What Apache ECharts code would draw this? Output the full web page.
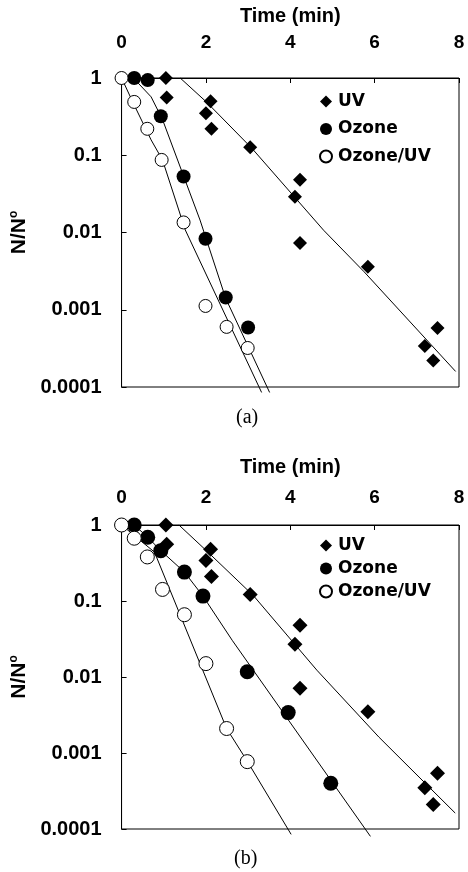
<!DOCTYPE html>
<html>
<head>
<meta charset="utf-8">
<script src="https://cdn.jsdelivr.net/npm/echarts@6/dist/echarts.min.js"></script>
<style>
html,body{margin:0;padding:0;background:#fff;}
#c{width:468px;height:872px;}
</style>
</head>
<body>
<div id="c"></div>
<script>
// ---- tick labels ----
const yTickLabels = ['1', '0.1', '0.01', '0.001', '0.0001'];
const xTickValues = [0, 2, 4, 6, 8];
const panelLabels = ['(a)', '(b)'];
const seriesNames = ['UV', 'Ozone', 'Ozone/UV'];

// ---- panel (a) measured points ----
const uvTime = [1.05, 1.07, 2.11, 2.00, 2.13, 3.05, 4.23, 4.11, 4.23, 5.84, 7.49, 7.19, 7.39];
const uvA = [1, 0.56, 0.50, 0.35, 0.22, 0.127, 0.048, 0.029, 0.0073, 0.0036, 0.00058, 0.00034, 0.00022];
const ozoneTimeA = [0.30, 0.62, 0.93, 1.47, 1.99, 2.47, 3.00];
const ozoneA = [1, 0.94, 0.32, 0.053, 0.0083, 0.00144, 0.00059];
const ozoneUvTimeA = [0, 0.30, 0.61, 0.95, 1.47, 1.99, 2.49, 2.99];
const ozoneUvA = [1, 0.49, 0.22, 0.087, 0.0135, 0.00112, 0.0006, 0.00032];

// ---- panel (a) fitted curves ----
const uvFitTimeA = [1.39, 2.01, 3.09, 4.79, 5.75, 7.92];
const uvFitA = [1, 0.49, 0.123, 0.0107, 0.0031, 0.000159];
const ozoneFitTimeA = [0.28, 0.70, 0.97, 1.86, 2.47, 3.51];
const ozoneFitA = [1, 0.57, 0.29, 0.0145, 0.0014, 0.000085];
const ozoneUvFitTimeA = [0, 0.28, 0.70, 0.97, 1.51, 3.32];
const ozoneUvFitA = [1, 0.47, 0.158, 0.087, 0.0108, 0.000085];

// ---- panel (b) measured points ----
const uvB = [1, 0.56, 0.48, 0.34, 0.21, 0.122, 0.048, 0.027, 0.0071, 0.0035, 0.00054, 0.00035, 0.00021];
const ozoneTimeB = [0.30, 0.62, 0.93, 1.49, 1.93, 2.98, 3.95, 4.96];
const ozoneB = [1, 0.69, 0.46, 0.24, 0.116, 0.0117, 0.0034, 0.0004];
const ozoneUvTimeB = [0, 0.30, 0.61, 0.97, 1.49, 2.00, 2.49, 2.98];
const ozoneUvB = [1, 0.67, 0.38, 0.142, 0.066, 0.015, 0.0021, 0.00077];

// ---- panel (b) fitted curves ----
const uvFitTimeB = [1.36, 2.01, 3.13, 4.63, 6.10, 7.91];
const uvFitB = [1, 0.46, 0.117, 0.0123, 0.00162, 0.000162];
const ozoneFitTimeB = [0.30, 0.62, 0.93, 1.49, 1.93, 2.63, 5.90];
const ozoneFitB = [1, 0.69, 0.46, 0.24, 0.116, 0.030, 0.000080];
const ozoneUvFitTimeB = [0, 0.78, 2.49, 2.98, 4.02];
const ozoneUvFitB = [1, 0.44, 0.0021, 0.00078, 0.000085];

const pair = (xs, ys) => xs.map((x, i) => [x, ys[i]]);
const SANS = '"Liberation Sans", Arial, sans-serif';

function xAxis(gi, labelMargin, nameGap) {
  return {
    type: 'value', gridIndex: gi, position: 'top',
    min: xTickValues[0], max: xTickValues[xTickValues.length - 1], interval: xTickValues[1] - xTickValues[0],
    name: 'Time (min)', nameLocation: 'middle', nameGap: nameGap,
    nameTextStyle: { fontFamily: SANS, fontWeight: 'bold', fontSize: 20, color: '#000' },
    axisLine: { show: true, lineStyle: { color: '#000', width: 1 } },
    axisTick: { show: true, inside: true, length: 5, lineStyle: { color: '#000' } },
    axisLabel: { margin: labelMargin, fontFamily: SANS, fontWeight: 'bold', fontSize: 19, lineHeight: 19, color: '#000' },
    splitLine: { show: false }
  };
}
function yAxis(gi) {
  return {
    type: 'log', logBase: 10, gridIndex: gi, min: 0.0001, max: 1,
    name: '{n|N/N}{s|o}', nameLocation: 'middle', nameGap: 73,
    nameTextStyle: {
      color: '#000',
      rich: {
        n: { fontFamily: SANS, fontWeight: 'bold', fontSize: 21, color: '#000', lineHeight: 22 },
        s: { fontFamily: SANS, fontWeight: 'bold', fontSize: 12, color: '#000', verticalAlign: 'top', lineHeight: 22 }
      }
    },
    axisLine: { show: true, lineStyle: { color: '#000', width: 1 } },
    axisTick: { show: true, inside: true, length: 5, lineStyle: { color: '#000' } },
    axisLabel: {
      margin: 20, fontFamily: SANS, fontWeight: 'bold', fontSize: 20, color: '#000',
      formatter: v => yTickLabels[Math.round(-Math.log10(v))]
    },
    splitLine: { show: false }
  };
}
function scatter(name, gi, data, symbol, size, hollow) {
  return {
    type: 'scatter', name: name, xAxisIndex: gi, yAxisIndex: gi, data: data,
    symbol: symbol, symbolSize: size, z: 5,
    itemStyle: hollow ? { color: '#fff', borderColor: '#000', borderWidth: 1, opacity: 1 } : { color: '#000', opacity: 1 }
  };
}
function fit(name, gi, data) {
  return {
    type: 'line', name: name, xAxisIndex: gi, yAxisIndex: gi, data: data,
    symbol: 'none', showSymbol: false, clip: false, z: 3,
    lineStyle: { color: '#000', width: 1 }
  };
}
function legend(top, gap) {
  return {
    orient: 'vertical', left: 319, top: top, padding: 0, itemGap: gap,
    itemWidth: 12, itemHeight: 12, selectedMode: false,
    textStyle: { fontFamily: '"DejaVu Sans", sans-serif', fontWeight: 'bold', fontSize: 17, lineHeight: 17, color: '#000', padding: [0, 0, 0, 1] },
    data: [
      { name: seriesNames[0], icon: 'diamond' },
      { name: seriesNames[1], icon: 'circle' },
      { name: seriesNames[2], icon: 'circle' }
    ]
  };
}

const chart = echarts.init(document.getElementById('c'), null, { renderer: 'canvas' });
chart.setOption({
  animation: false,
  backgroundColor: '#fff',
  grid: [
    { left: 113, top: 78, width: 346, height: 309, show: true, borderColor: '#000', borderWidth: 1, containLabel: false },
    { left: 113, top: 525, width: 346, height: 304, show: true, borderColor: '#000', borderWidth: 1, containLabel: false }
  ],
  xAxis: [xAxis(0, 26, 52), xAxis(1, 18, 48)],
  yAxis: [yAxis(0), yAxis(1)],
  legend: [legend(93, 10.5), legend(537, 6)],
  graphic: [
    { type: 'text', left: 236, top: 408, style: { text: panelLabels[0], font: '20px "Liberation Serif", "Times New Roman", serif', fill: '#000' } },
    { type: 'text', left: 234, top: 849, style: { text: panelLabels[1], font: '20px "Liberation Serif", "Times New Roman", serif', fill: '#000' } }
  ],
  series: [
    fit('UV fit (a)', 0, pair(uvFitTimeA, uvFitA)),
    fit('Ozone fit (a)', 0, pair(ozoneFitTimeA, ozoneFitA)),
    fit('Ozone/UV fit (a)', 0, pair(ozoneUvFitTimeA, ozoneUvFitA)),
    scatter(seriesNames[0], 0, pair(uvTime, uvA), 'diamond', 14, false),
    scatter(seriesNames[1], 0, pair(ozoneTimeA, ozoneA), 'circle', 14, false),
    scatter(seriesNames[2], 0, pair(ozoneUvTimeA, ozoneUvA), 'circle', 13, true),
    fit('UV fit (b)', 1, pair(uvFitTimeB, uvFitB)),
    fit('Ozone fit (b)', 1, pair(ozoneFitTimeB, ozoneFitB)),
    fit('Ozone/UV fit (b)', 1, pair(ozoneUvFitTimeB, ozoneUvFitB)),
    scatter(seriesNames[0], 1, pair(uvTime, uvB), 'diamond', 15, false),
    scatter(seriesNames[1], 1, pair(ozoneTimeB, ozoneB), 'circle', 15, false),
    scatter(seriesNames[2], 1, pair(ozoneUvTimeB, ozoneUvB), 'circle', 14, true)
  ]
});
</script>
</body>
</html>
